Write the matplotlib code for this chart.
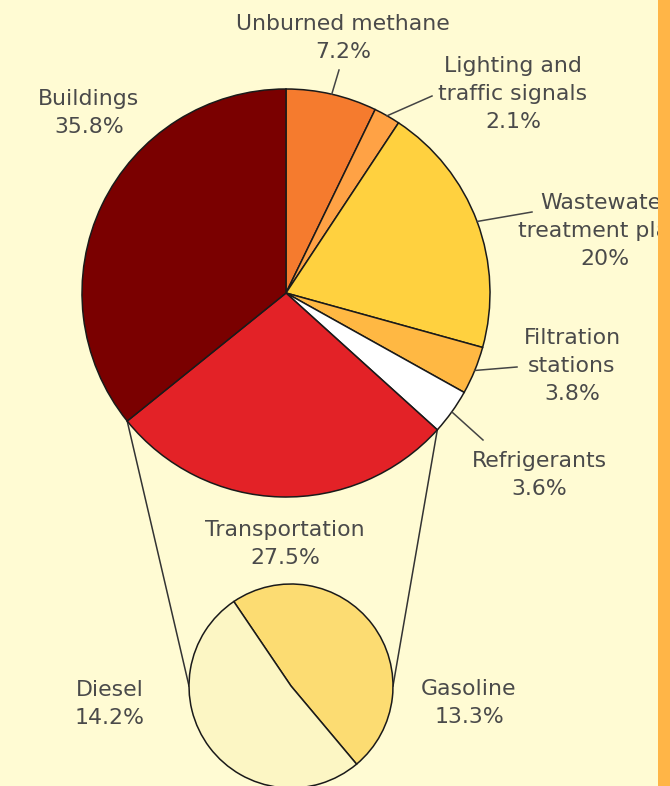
import numpy as np
import matplotlib
matplotlib.use("Agg")
import matplotlib.pyplot as plt
from matplotlib.patches import Rectangle

plt.rcParams['font.family'] = ['DejaVu Sans']

# ---- data ----
main_labels = ["Unburned methane", "Lighting and\ntraffic signals", "Wastewater\ntreatment plant",
               "Filtration\nstations", "Refrigerants", "Transportation", "Buildings"]
main_values = [7.2, 2.1, 20.0, 3.8, 3.6, 27.5, 35.8]
main_colors = ["#F57B2E", "#FFA245", "#FFD13F", "#FFB843", "#FFFFFF", "#E32227", "#7A0000"]

sub_labels = ["Gasoline", "Diesel"]
sub_values = [13.3, 14.2]
sub_colors = ["#FCDC72", "#FCF6C4"]

W, H = 670, 786
BG = "#FFFBD3"
TXT = "#4a4a4a"

fig = plt.figure(figsize=(W / 100, H / 100), dpi=100, facecolor=BG)
ax = fig.add_axes([0, 0, 1, 1])
ax.set_facecolor(BG)

def P(x, y):
    return (x, H - y)

main_c = P(286, 293)
main_r = 204
sub_c = P(291, 686)
sub_r = 102

wedges, _ = ax.pie(main_values, colors=main_colors, startangle=90, counterclock=False,
                   center=main_c, radius=main_r,
                   wedgeprops=dict(edgecolor="#1a1a1a", linewidth=1.1))

# small pie for Transportation
sub_w, _ = ax.pie(sub_values, colors=sub_colors, startangle=310, counterclock=True,
                  center=sub_c, radius=sub_r,
                  wedgeprops=dict(edgecolor="#1a1a1a", linewidth=1.1))

ax.set_xlim(0, W)
ax.set_ylim(0, H)
ax.set_aspect('equal')
ax.axis('off')

# angles of main wedges
total = sum(main_values)
bounds = 90 - np.cumsum([0] + main_values) / total * 360.0

def edge(angle_deg, c=main_c, r=main_r):
    a = np.deg2rad(angle_deg)
    return (c[0] + r * np.cos(a), c[1] + r * np.sin(a))

# connector lines Transportation -> small pie
ti = main_labels.index("Transportation")
a1, a2 = bounds[ti], bounds[ti + 1]
p_left = edge(a2)
p_right = edge(a1)
ax.plot([p_left[0], sub_c[0] - sub_r], [p_left[1], sub_c[1]], color="#333333", lw=1.1, zorder=0.5)
ax.plot([p_right[0], sub_c[0] + sub_r], [p_right[1], sub_c[1]], color="#333333", lw=1.1, zorder=0.5)

# leader lines
leader_ends = {0: P(339, 70), 1: P(432, 96), 2: P(532, 212), 3: P(517, 367), 4: P(483, 440)}
for i, end in leader_ends.items():
    mid = (bounds[i] + bounds[i + 1]) / 2
    s = edge(mid)
    ax.plot([s[0], end[0]], [s[1], end[1]], color="#444444", lw=1.1, zorder=1)

def pct(v):
    return ("%g" % v) + "%"

label_pos = [P(343, 38), P(513, 94), P(605, 231), P(572, 366), P(539, 475), P(285, 544), P(89, 113)]
fs = 15.8
for lab, v, pos in zip(main_labels, main_values, label_pos):
    ax.text(pos[0], pos[1], lab + "\n" + pct(v), ha='center', va='center', color=TXT,
            fontsize=fs, linespacing=1.5, multialignment='center', zorder=3)

sub_pos = [P(469, 703), P(110, 704)]
for lab, v, pos in zip(sub_labels, sub_values, sub_pos):
    ax.text(pos[0], pos[1], lab + "\n" + pct(v), ha='center', va='center', color=TXT,
            fontsize=fs, linespacing=1.5, multialignment='center', zorder=3)

# orange right border
ax.add_patch(Rectangle((658, 0), 12, H, facecolor="#FFB547", edgecolor='none', zorder=10))

fig.savefig("out.png", dpi=100, facecolor=BG)
